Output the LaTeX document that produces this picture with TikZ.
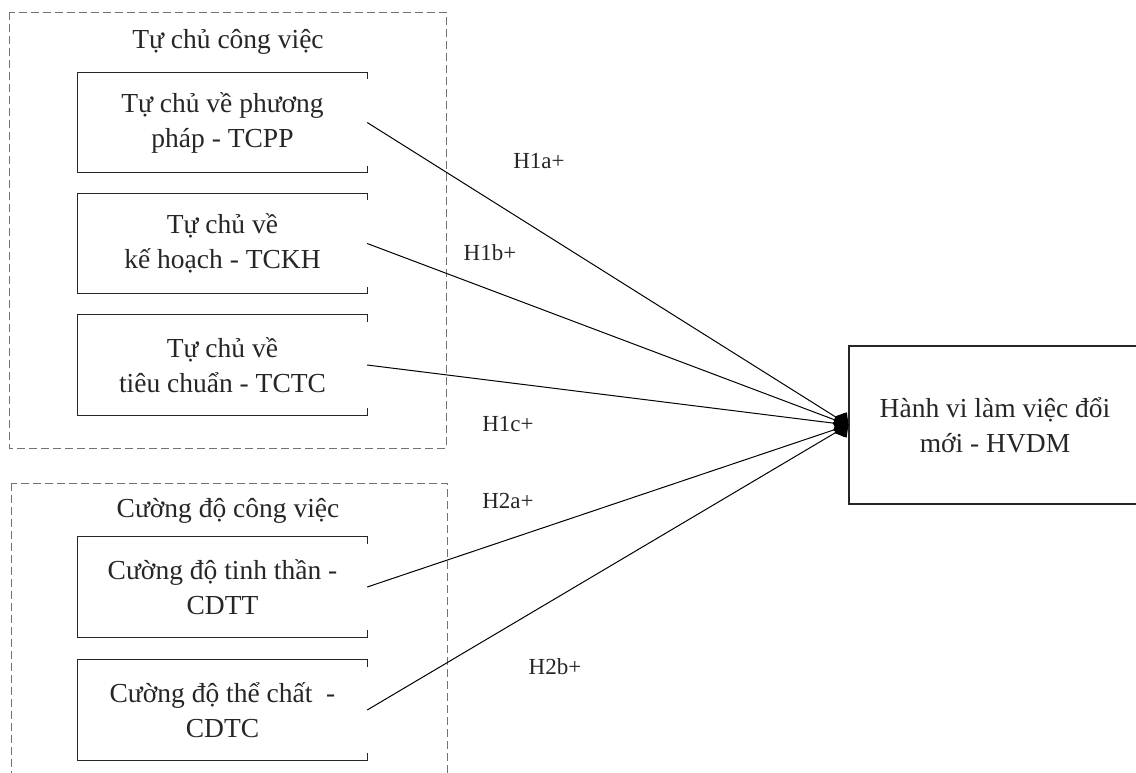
\documentclass[tikz,border=0pt]{standalone}
\usepackage{fontspec}
\setmainfont{Liberation Serif}
\usetikzlibrary{arrows.meta}
\begin{document}
\begin{tikzpicture}[
        x                 = 1pt,
        y                 = -1pt,
        font              = \fontsize{27.5}{35}\selectfont,
        text              = black!85,
        group/.style      = {draw=black!55, line width=1pt, dash pattern=on 8pt off 4pt},
        factor/.style     = {minimum width=289pt, minimum height=100pt, align=center, inner sep=0pt},
        outcome/.style    = {draw=black!85, line width=1.2pt, minimum width=292pt, minimum height=158pt, align=center},
        hypo/.style       = {font=\fontsize{23}{27}\selectfont},
        link/.style       = {line width=1pt, -{Diamond[length=16pt,width=20pt]}},
      ]
        \useasboundingbox (0,0) rectangle (1136,772);

        % nhom bien doc lap
        \draw[group] (9,12) rectangle (446,448);
        \draw[group] (11,483) rectangle (447,800);
        \node (tccv) at (228,42) {Tự chủ công việc};
        \node (cdcv) at (228,511) {Cường độ công việc};

        \node[factor] (tcpp) at (222.5,122.5) {Tự chủ về phương\\pháp - TCPP};
        \node[factor] (tckh) at (222.5,243.5) {Tự chủ về\\kế hoạch - TCKH};
        \node[factor] (tctc) at (222.5,365)   {Tự chủ về\\tiêu chuẩn - TCTC};
        \node[factor] (cdtt) at (222.5,587)   {Cường độ tinh thần -\\CDTT};
        \node[factor] (cdtc) at (222.5,710)   {Cường độ thể chất\ \ -\\CDTC};

        % khung mo ben phai
        \foreach \b in {tcpp,tckh,tctc,cdtt,cdtc}
            \draw[line width=1.2pt, black!85] ([yshift=-7pt]\b.north east) -- (\b.north east) -- (\b.north west)
                -- (\b.south west) -- (\b.south east) -- ([yshift=7pt]\b.south east);

        % bien phu thuoc
        \node[outcome] (hvdm) at (995,425) {Hành vi làm việc đổi\\mới - HVDM};

        \draw[link] (tcpp.east) -- (hvdm.west);
        \draw[link] (tckh.east) -- (hvdm.west);
        \draw[link] (tctc.east) -- (hvdm.west);
        \draw[link] (cdtt.east) -- (hvdm.west);
        \draw[link] (cdtc.east) -- (hvdm.west);

        \node[hypo] (h1a) at (539,161) {H1a+};
        \node[hypo] (h1b) at (490,253) {H1b+};
        \node[hypo] (h1c) at (508,424) {H1c+};
        \node[hypo] (h2a) at (508,501) {H2a+};
        \node[hypo] (h2b) at (555,667) {H2b+};
    \end{tikzpicture}
\end{document}
